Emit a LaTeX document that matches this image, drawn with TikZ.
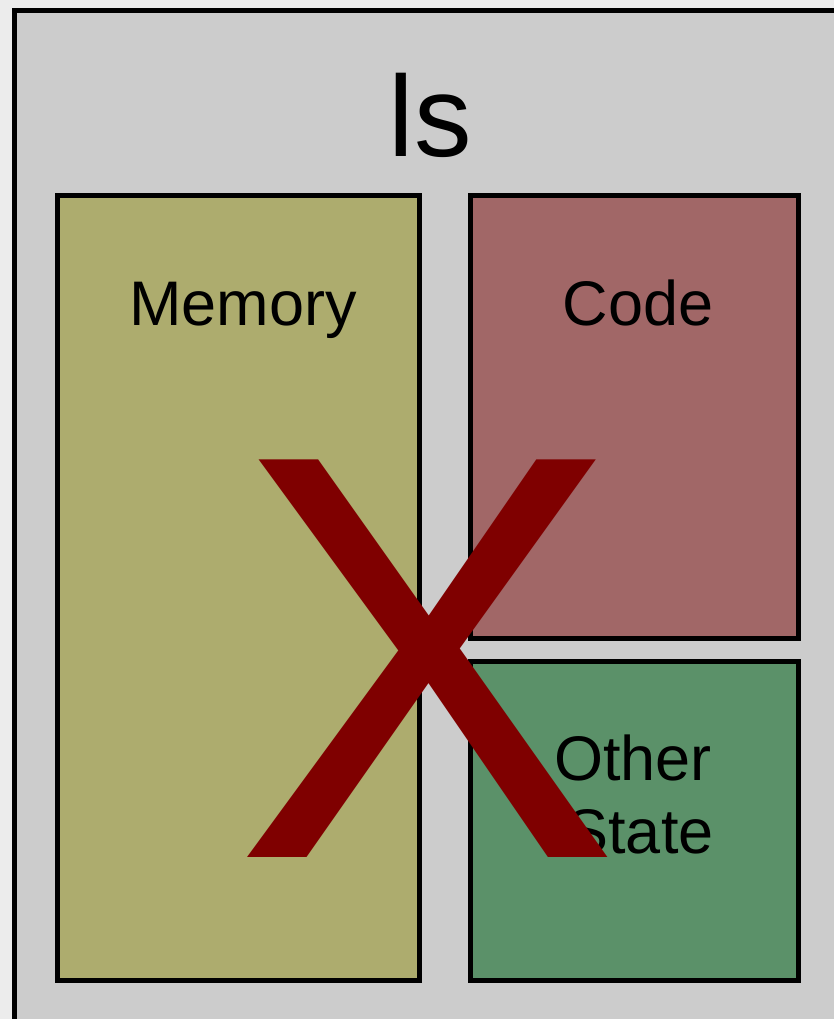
\documentclass[tikz,border=0pt]{standalone}
\usepackage{fontspec}
\setmainfont{Liberation Sans}
\definecolor{pagebg}{HTML}{ECECEC}
\definecolor{framebg}{HTML}{CCCCCC}
\definecolor{memfill}{HTML}{ADAC6E}
\definecolor{codefill}{HTML}{A16767}
\definecolor{statefill}{HTML}{5B9169}
\definecolor{crossred}{HTML}{7F0000}
\tikzset{
  part/.style={draw=black, line width=5pt},
  label/.style={inner sep=0pt, anchor=base, text=black}
}
\begin{document}
\begin{tikzpicture}[x=1pt, y=-1pt]
  \useasboundingbox (0,0) rectangle (834,1019);
  \clip (0,0) rectangle (834,1019);
  \fill[pagebg] (0,0) rectangle (834,1019);
  % process frame, running off the right and bottom
  \draw[part, fill=framebg] (14.3,10.8) rectangle (850,1040);
  \node[label, font=\fontsize{115}{115}\selectfont] (title) at (430,157) {ls};
  % components
  \draw[part, fill=memfill] (57.5,195.5) rectangle (419.5,980.5);
  \draw[part, fill=codefill] (470,195.5) rectangle (798.5,638.5);
  \draw[part, fill=statefill] (470,661.5) rectangle (798.5,980.5);
  \node[label, font=\fontsize{63}{63}\selectfont] (mem) at (243,325) {Memory};
  \node[label, font=\fontsize{63}{63}\selectfont] (code) at (638,325) {Code};
  \node[label, font=\fontsize{63}{63}\selectfont] (other) at (633,780) {Other};
  \node[label, font=\fontsize{63}{63}\selectfont] (state) at (640,853) {State};
  % big cross over everything
  \node[label, text=crossred, font=\fontsize{578}{578}\selectfont] (cross) at (427,857) {X};
\end{tikzpicture}
\end{document}
